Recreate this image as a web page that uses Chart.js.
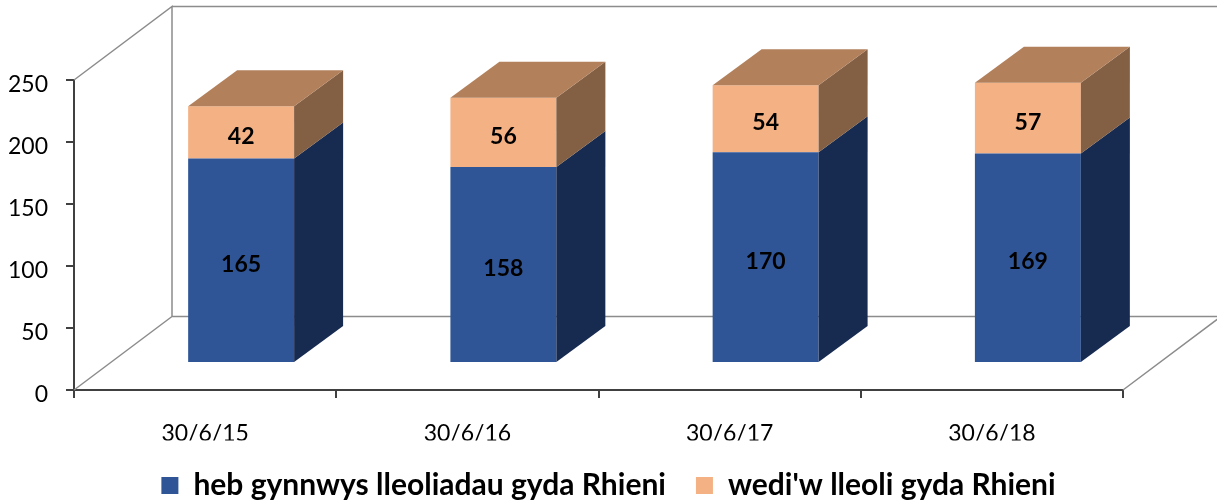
<!DOCTYPE html>
<html>
<head>
<meta charset="utf-8">
<script src="https://cdn.jsdelivr.net/npm/chart.js@4.4.0/dist/chart.umd.min.js"></script>
<style>
  html, body { margin: 0; padding: 0; background: #ffffff; }
  #wrap { width: 1217px; height: 500px; }
</style>
</head>
<body>
<div id="wrap"><canvas id="c" width="1217" height="500"></canvas></div>
<script>
const categories = ['30/6/15', '30/6/16', '30/6/17', '30/6/18'];
const seriesNames = ['heb gynnwys lleoliadau gyda Rhieni', "wedi'w lleoli gyda Rhieni"];
const withoutParents = [165, 158, 170, 169];
const withParents = [42, 56, 54, 57];
const yTicks = [0, 50, 100, 150, 200, 250];

const FONT = 'Lato';
const faceColors = [
  { front: '#2F5597', side: '#172A50', top: '#24437A' },
  { front: '#F4B183', side: '#835F43', top: '#B3805C' }
];
const BAR_SHIFT = { x: 36, y: -27 };   // bars sit part-way into the 3D depth
const BAR_DEPTH = { x: 49, y: -36 };
const WALL_DEPTH = { x: 98, y: -73.5 };

const threeD = {
  id: 'threeD',
  beforeDatasetsDraw(chart) {
    const { ctx, chartArea } = chart;
    const ys = chart.scales.y;
    const y0 = ys.getPixelForValue(0);
    const yTop = ys.getPixelForValue(yTicks[yTicks.length - 1]);
    const L = chartArea.left, R = chartArea.right;
    ctx.save();
    ctx.strokeStyle = '#8C8C8C';
    ctx.lineWidth = 1.5;
    ctx.beginPath();
    ctx.moveTo(L, yTop); ctx.lineTo(L + WALL_DEPTH.x, yTop + WALL_DEPTH.y);
    ctx.lineTo(L + WALL_DEPTH.x, y0 + WALL_DEPTH.y);
    ctx.moveTo(L, y0); ctx.lineTo(L + WALL_DEPTH.x, y0 + WALL_DEPTH.y);
    ctx.moveTo(L + WALL_DEPTH.x, yTop + WALL_DEPTH.y); ctx.lineTo(R + WALL_DEPTH.x, yTop + WALL_DEPTH.y);
    ctx.moveTo(L + WALL_DEPTH.x, y0 + WALL_DEPTH.y); ctx.lineTo(R + WALL_DEPTH.x, y0 + WALL_DEPTH.y);
    ctx.moveTo(R, y0); ctx.lineTo(R + WALL_DEPTH.x, y0 + WALL_DEPTH.y);
    ctx.lineTo(R + WALL_DEPTH.x, yTop + WALL_DEPTH.y);
    ctx.stroke();
    ctx.restore();

    ctx.save();
    ctx.translate(BAR_SHIFT.x, BAR_SHIFT.y);
  },
  afterDatasetsDraw(chart) {
    const { ctx } = chart;
    const nSets = chart.data.datasets.length;
    const count = chart.data.labels.length;
    for (let i = 0; i < count; i++) {
      for (let d = 0; d < nSets; d++) {
        const el = chart.getDatasetMeta(d).data[i];
        const { x, y, base, width } = el.getProps(['x', 'y', 'base', 'width'], true);
        const xl = x - width / 2, xr = x + width / 2;
        const top = Math.min(y, base), bot = Math.max(y, base);
        ctx.fillStyle = faceColors[d].side;
        ctx.beginPath();
        ctx.moveTo(xr, top);
        ctx.lineTo(xr + BAR_DEPTH.x, top + BAR_DEPTH.y);
        ctx.lineTo(xr + BAR_DEPTH.x, bot + BAR_DEPTH.y);
        ctx.lineTo(xr, bot);
        ctx.closePath();
        ctx.fill();
        if (d === nSets - 1) {
          ctx.fillStyle = faceColors[d].top;
          ctx.beginPath();
          ctx.moveTo(xl, top);
          ctx.lineTo(xl + BAR_DEPTH.x, top + BAR_DEPTH.y);
          ctx.lineTo(xr + BAR_DEPTH.x, top + BAR_DEPTH.y);
          ctx.lineTo(xr, top);
          ctx.closePath();
          ctx.fill();
        }
        const v = chart.data.datasets[d].data[i];
        ctx.fillStyle = '#000000';
        ctx.font = 'bold 23px ' + FONT;
        ctx.textAlign = 'center';
        ctx.textBaseline = 'middle';
        ctx.fillText(String(v), x, (top + bot) / 2 + 4);
      }
    }
    ctx.restore();
  }
};

new Chart(document.getElementById('c'), {
  type: 'bar',
  data: {
    labels: categories,
    datasets: [
      { label: seriesNames[0], data: withoutParents, backgroundColor: faceColors[0].front, borderWidth: 0 },
      { label: seriesNames[1], data: withParents, backgroundColor: faceColors[1].front, borderWidth: 0 }
    ]
  },
  options: {
    responsive: false,
    animation: false,
    devicePixelRatio: 1,
    layout: { padding: { left: 0, right: 0, top: 80, bottom: -10.5 } },
    barPercentage: 0.404,
    categoryPercentage: 1,
    plugins: {
      tooltip: { enabled: false },
      legend: {
        position: 'bottom',
        labels: {
          font: { family: FONT, size: 30, weight: 'bold' },
          color: '#000000',
          boxWidth: 17,
          boxHeight: 17,
          padding: 30
        }
      }
    },
    scales: {
      x: {
        stacked: true,
        offset: true,
        grid: { display: true, offset: true, drawOnChartArea: false, drawTicks: true, tickLength: 8, color: '#404040', lineWidth: 2 },
        border: { display: true, color: '#404040', width: 2 },
        ticks: { font: { family: FONT, size: 23 }, color: '#000000', padding: 22 },
        afterFit(s) { s.height = 50.5; }
      },
      y: {
        stacked: true,
        min: 0,
        max: 250,
        afterBuildTicks(s) { s.ticks = yTicks.map(v => ({ value: v })); },
        grid: { display: true, drawOnChartArea: false, drawTicks: true, tickLength: 8, color: '#404040', lineWidth: 2 },
        border: { display: true, color: '#404040', width: 2 },
        ticks: { font: { family: FONT, size: 23 }, color: '#000000', padding: 18, labelOffset: 5 },
        afterFit(s) { s.width = 74; }
      },
      yRight: {
        position: 'right',
        display: true,
        grid: { display: false },
        border: { display: false },
        ticks: { display: false },
        afterFit(s) { s.width = 94; }
      }
    }
  },
  plugins: [threeD]
});
</script>
</body>
</html>
